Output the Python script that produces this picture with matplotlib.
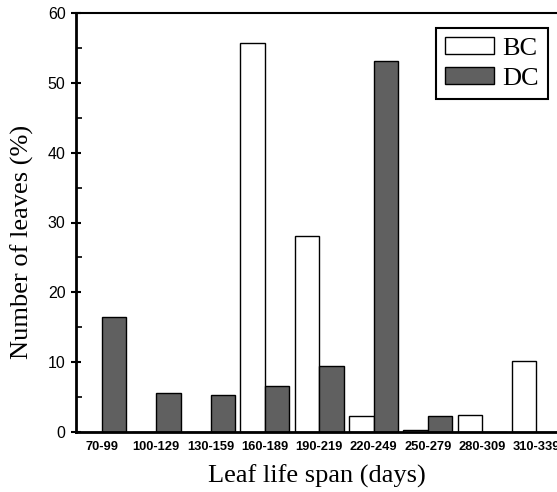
import matplotlib
matplotlib.use("Agg")
import matplotlib.pyplot as plt
import numpy as np

categories = ["70-99", "100-129", "130-159", "160-189", "190-219",
              "220-249", "250-279", "280-309", "310-339"]
bc_values = [0.0, 0.0, 0.0, 55.7, 28.1, 2.2, 0.3, 2.4, 10.1]
dc_values = [16.4, 5.5, 5.3, 6.5, 9.4, 53.1, 2.25, 0.0, 0.0]
yticks = [0, 10, 20, 30, 40, 50, 60]

W, H = 557, 492
fig = plt.figure(figsize=(W / 100, H / 100), dpi=100)

left_px, bottom_px, top_px = 76, 431.7, 13.3
xmin, xmax = -0.479, 8.5
px_per_unit = 54.3
ax_w = (xmax - xmin) * px_per_unit / W
ax = fig.add_axes([left_px / W, 1 - bottom_px / H, ax_w, (bottom_px - top_px) / H])

x = np.arange(len(categories))
w = 0.45
ax.bar(x - w / 2, bc_values, width=w, color="white", edgecolor="black", linewidth=1.0, label="BC")
ax.bar(x + w / 2, dc_values, width=w, color="#606060", edgecolor="black", linewidth=1.0, label="DC")

ax.set_xlim(xmin, xmax)
ax.set_ylim(0, 60)
ax.set_xticks(x)
ax.set_xticklabels(categories, fontfamily="Liberation Sans", fontweight="bold", fontsize=9.3)
ax.tick_params(axis="x", length=0, pad=7)
ax.set_yticks(yticks)
ax.set_yticklabels([str(v) for v in yticks], fontfamily="Liberation Sans", fontsize=11.5)
ax.set_yticks(np.arange(5, 60, 10), minor=True)
ax.tick_params(axis="y", which="major", direction="inout", length=7, width=1.5, pad=4)
ax.tick_params(axis="y", which="minor", direction="in", length=4, width=1.2)

for s in ["left", "bottom"]:
    ax.spines[s].set_linewidth(2.0)
ax.spines["top"].set_linewidth(1.5)
ax.spines["right"].set_linewidth(1.5)

fig.text(22 / W, 1 - 242 / H, "Number of leaves (%)", rotation=90, ha="center", va="center",
         fontfamily="Liberation Serif", fontsize=19)
fig.text(317 / W, 1 - 476 / H, "Leaf life span (days)", ha="center", va="center",
         fontfamily="Liberation Serif", fontsize=19)

leg = ax.legend(loc="upper right", bbox_to_anchor=(548 / W, 1 - 28 / H),
                bbox_transform=fig.transFigure, borderaxespad=0,
                prop={"family": "Liberation Serif", "size": 19},
                handlelength=1.85, handleheight=0.62, handletextpad=0.3,
                labelspacing=0.25, borderpad=0.35, fancybox=False, framealpha=1)
leg.get_frame().set_edgecolor("black")
leg.get_frame().set_linewidth(1.5)

fig.savefig("out.png", dpi=100)
